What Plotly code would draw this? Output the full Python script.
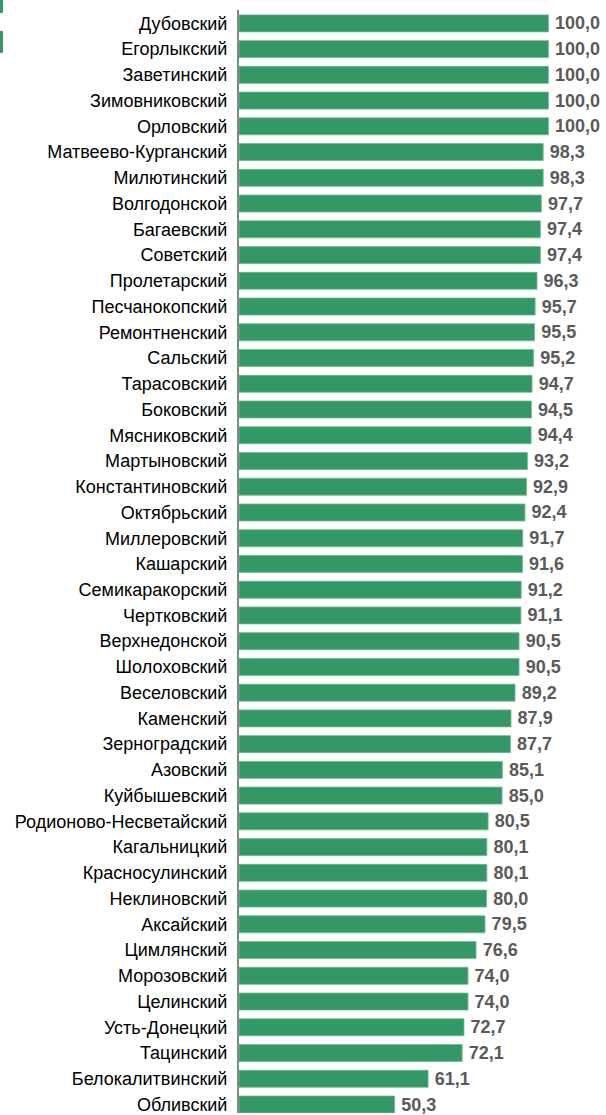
import plotly.graph_objects as go

districts = [
    "Дубовский", "Егорлыкский", "Заветинский", "Зимовниковский", "Орловский",
    "Матвеево-Курганский", "Милютинский", "Волгодонской", "Багаевский", "Советский",
    "Пролетарский", "Песчанокопский", "Ремонтненский", "Сальский", "Тарасовский",
    "Боковский", "Мясниковский", "Мартыновский", "Константиновский", "Октябрьский",
    "Миллеровский", "Кашарский", "Семикаракорский", "Чертковский", "Верхнедонской",
    "Шолоховский", "Веселовский", "Каменский", "Зерноградский", "Азовский",
    "Куйбышевский", "Родионово-Несветайский", "Кагальницкий", "Красносулинский",
    "Неклиновский", "Аксайский", "Цимлянский", "Морозовский", "Целинский",
    "Усть-Донецкий", "Тацинский", "Белокалитвинский", "Обливский",
]
values = [
    100.0, 100.0, 100.0, 100.0, 100.0,
    98.3, 98.3, 97.7, 97.4, 97.4,
    96.3, 95.7, 95.5, 95.2, 94.7,
    94.5, 94.4, 93.2, 92.9, 92.4,
    91.7, 91.6, 91.2, 91.1, 90.5,
    90.5, 89.2, 87.9, 87.7, 85.1,
    85.0, 80.5, 80.1, 80.1,
    80.0, 79.5, 76.6, 74.0, 74.0,
    72.7, 72.1, 61.1, 50.3,
]
labels = ["\u2009" + f"{v:.1f}".replace(".", ",") for v in values]

FONT = "Arial, Liberation Sans, sans-serif"

fig = go.Figure(go.Bar(
    x=values, y=districts, orientation="h",
    marker=dict(color="#349866", line=dict(color="#6fb890", width=0.8)),
    text=labels, textposition="outside", cliponaxis=False, constraintext="none",
    textfont=dict(family=FONT, size=18, color="#5a5a5a", weight="bold"),
    width=0.66,
))

fig.update_layout(
    width=606, height=1115,
    margin=dict(l=239, r=0, t=10, b=0),
    paper_bgcolor="white", plot_bgcolor="white",
    showlegend=False,
    font=dict(family=FONT, size=18, color="black"),
    xaxis=dict(range=[0, 118.6], visible=False, showgrid=False, zeroline=False),
    yaxis=dict(
        range=[42.33, -0.52], showgrid=False, zeroline=False,
        showline=True, linecolor="#878787", linewidth=2,
        ticks="", ticklabelstandoff=6,
        tickfont=dict(family=FONT, size=18, color="black"),
    ),
    shapes=[
        dict(type="rect", xref="paper", yref="paper",
             x0=-239/367, x1=-236/367, y0=1 + (10 - 13) / 1105, y1=1 + 10 / 1105,
             fillcolor="#349866", line=dict(width=0)),
        dict(type="rect", xref="paper", yref="paper",
             x0=-239/367, x1=-236/367, y0=1 + (10 - 53) / 1105, y1=1 + (10 - 31) / 1105,
             fillcolor="#349866", line=dict(width=0)),
    ],
)

fig.write_html(
    "out.html",
    config={"displayModeBar": False},
    post_script="document.body.style.margin='0';document.body.style.overflow='hidden';",
)
